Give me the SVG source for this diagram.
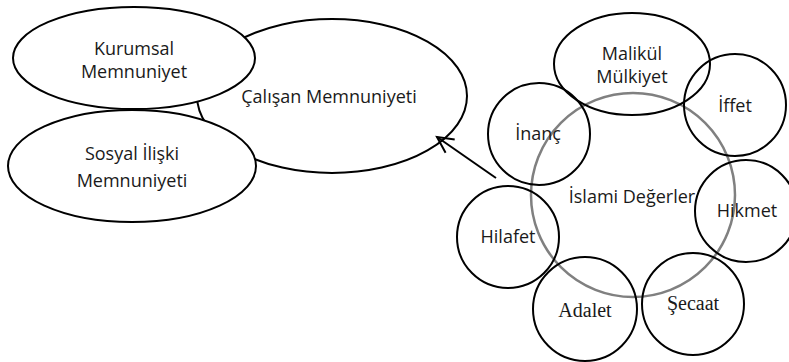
<svg xmlns="http://www.w3.org/2000/svg" width="789" height="362" viewBox="0 0 789 362">
<style>
.n{fill:none;stroke:#000;stroke-width:2}
.w{fill:#fff;stroke:#000;stroke-width:2}
.g{fill:none;stroke:#808080;stroke-width:2.5}
.t{font-family:"Open Sans","Liberation Sans",sans-serif;font-size:18px;fill:#1a1a1a;text-anchor:middle}
.s{font-family:"Liberation Serif","Times New Roman",serif;font-size:20px;fill:#1a1a1a;text-anchor:middle}
</style>
<defs>
<marker id="ah" markerWidth="20" markerHeight="20" refX="17" refY="10" orient="auto" markerUnits="userSpaceOnUse">
<path d="M1,2 L17,10 L1,18" fill="none" stroke="#000" stroke-width="2"/>
</marker>
</defs>
<g id="calisan"><ellipse class="w" cx="332" cy="96" rx="135" ry="77"/><text class="t" x="329" y="103">Çalışan Memnuniyeti</text></g>
<g id="kurumsal"><ellipse class="w" cx="134" cy="58" rx="121" ry="51"/><text class="t" x="134" y="55">Kurumsal</text><text class="t" x="134" y="78">Memnuniyet</text></g>
<g id="sosyal"><ellipse class="w" cx="132" cy="166" rx="124" ry="56"/><text class="t" x="132" y="160">Sosyal İlişki</text><text class="t" x="132" y="187">Memnuniyeti</text></g>
<g id="connectors"><line class="n" x1="496" y1="178" x2="437" y2="137" marker-end="url(#ah)"/></g>
<g id="islami"><circle class="g" cx="633" cy="195" r="102"/><text class="t" x="632" y="203">İslami Değerler</text></g>
<g id="malikul"><ellipse class="n" cx="632" cy="64" rx="78" ry="51"/><text class="t" x="632" y="60">Malikül</text><text class="t" x="632" y="83">Mülkiyet</text></g>
<g id="iffet"><circle class="n" cx="735" cy="105" r="51"/><text class="t" x="735" y="112">İffet</text></g>
<g id="hikmet"><circle class="n" cx="746" cy="211" r="51"/><text class="t" x="747" y="217">Hikmet</text></g>
<g id="inanc"><circle class="n" cx="539" cy="134" r="51"/><text class="t" x="538" y="140">İnanç</text></g>
<g id="hilafet"><circle class="n" cx="508" cy="237" r="51"/><text class="t" x="508" y="243">Hilafet</text></g>
<g id="adalet"><circle class="n" cx="585" cy="309" r="52"/><text class="s" x="585" y="317">Adalet</text></g>
<g id="secaat"><circle class="n" cx="693" cy="304" r="51"/><text class="s" x="693" y="310">Şecaat</text></g>
</svg>
